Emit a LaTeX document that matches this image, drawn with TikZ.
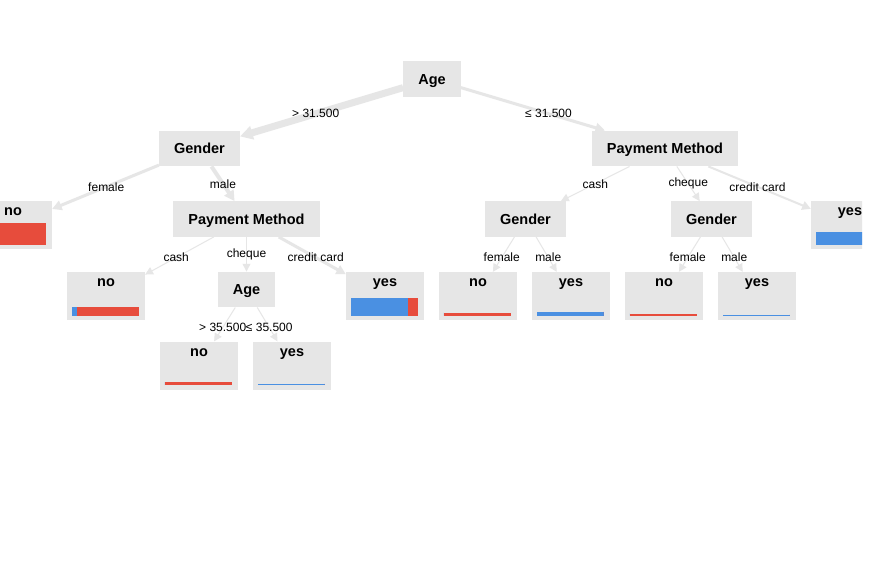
\documentclass[tikz,border=0pt]{standalone}
\usepackage{fontspec}
\setmainfont{Liberation Sans}
\usetikzlibrary{arrows.meta}
\definecolor{boxgray}{HTML}{E6E6E6}
\definecolor{edgegray}{HTML}{E6E6E6}
\definecolor{nored}{HTML}{E74C3C}
\definecolor{yesblue}{HTML}{4A90E2}
\tikzset{
  split/.style={fill=boxgray,inner xsep=15pt,inner ysep=0pt,minimum height=35.5pt,
    text height=10.4pt,text depth=0pt,font=\fontsize{14.5}{16}\selectfont\bfseries},
  leaf/.style={fill=boxgray,minimum width=78pt,inner xsep=0pt,inner ysep=0pt,
    text height=14.5pt,text depth=33.5pt,font=\fontsize{14.5}{16}\selectfont\bfseries},
  link/.style={draw=edgegray,line width=#1,-{Triangle[length=7pt 0.8,width=7pt 0.9]}},
  edgelabel/.style={inner sep=0pt,font=\fontsize{12}{14}\selectfont},
}
% class bar inside a leaf: node, blue width, red width, height
\newcommand{\leafbar}[4]{%
  \fill[yesblue] ([xshift=5pt,yshift=4.5pt]#1.south west) rectangle ++(#2,-#4);
  \fill[nored] ([xshift=5pt+#2pt,yshift=4.5pt]#1.south west) rectangle ++(#3,-#4);
}
\begin{document}
\begin{tikzpicture}[x=1pt,y=-1pt]
  \useasboundingbox[fill=white] (0,0) rectangle (873,573);
  \clip (0,0) rectangle (862,573);
  \node[split] (age) at (432,79) {Age};
  \node[split] (g1) at (199.5,148.5) {Gender};
  \node[split] (pm1) at (665,148.5) {Payment Method};
  \node[leaf] (l1) at (13,225) {no};
  \node[split] (pm2) at (246.5,219) {Payment Method};
  \node[split] (g2) at (525.5,219) {Gender};
  \node[split] (g3) at (711.5,219) {Gender};
  \node[leaf] (l2) at (850,225) {yes};
  \node[leaf] (l3) at (106,296) {no};
  \node[split] (age2) at (246.5,289.5) {Age};
  \node[leaf] (l4) at (385,296) {yes};
  \node[leaf] (l5) at (199,365.5) {no};
  \node[leaf] (l6) at (292,365.5) {yes};
  \node[leaf] (l7) at (478,296) {no};
  \node[leaf] (l8) at (571,296) {yes};
  \node[leaf] (l9) at (664,296) {no};
  \node[leaf] (l10) at (757,296) {yes};

  \leafbar{l1}{0}{67}{22}
  \leafbar{l2}{67}{0}{13}
  \leafbar{l3}{5}{62}{9}
  \leafbar{l4}{57}{10}{18}
  \leafbar{l5}{0}{67}{3}
  \leafbar{l6}{67}{0}{1.5}
  \leafbar{l7}{0}{67}{3}
  \leafbar{l8}{67}{0}{4}
  \leafbar{l9}{0}{67}{2}
  \leafbar{l10}{67}{0}{1.2}

  \draw[link=7pt] (age) -- (g1);
  \draw[link=3pt] (age) -- (pm1);
  \draw[link=3pt] (g1) -- (l1);
  \draw[link=4pt] (g1) -- (pm2);
  \draw[link=1pt] (pm2) -- (l3);
  \draw[link=1pt] (pm2) -- (age2);
  \draw[link=3pt] (pm2) -- (l4);
  \draw[link=1pt] (age2) -- (l5);
  \draw[link=1pt] (age2) -- (l6);
  \draw[link=1pt] (pm1) -- (g2);
  \draw[link=1pt] (pm1) -- (g3);
  \draw[link=2pt] (pm1) -- (l2);
  \draw[link=1pt] (g2) -- (l7);
  \draw[link=1pt] (g2) -- (l8);
  \draw[link=1pt] (g3) -- (l9);
  \draw[link=1pt] (g3) -- (l10);

  \path (age.center) -- node[edgelabel] {> 31.500} (g1.center);
  \path (age.center) -- node[edgelabel] {≤ 31.500} (pm1.center);
  \path (g1.center) -- node[edgelabel] {female} (l1.center);
  \path (g1.center) -- node[edgelabel] {male} (pm2.center);
  \path (pm2.center) -- node[edgelabel] {cash} (l3.center);
  \path (pm2.center) -- node[edgelabel] {cheque} (age2.center);
  \path (pm2.center) -- node[edgelabel] {credit card} (l4.center);
  \path (age2.center) -- node[edgelabel] {> 35.500} (l5.center);
  \path (age2.center) -- node[edgelabel] {≤ 35.500} (l6.center);
  \path (pm1.center) -- node[edgelabel] {cash} (g2.center);
  \path (pm1.center) -- node[edgelabel] {cheque} (g3.center);
  \path (pm1.center) -- node[edgelabel] {credit card} (l2.center);
  \path (g2.center) -- node[edgelabel] {female} (l7.center);
  \path (g2.center) -- node[edgelabel] {male} (l8.center);
  \path (g3.center) -- node[edgelabel] {female} (l9.center);
  \path (g3.center) -- node[edgelabel] {male} (l10.center);
\end{tikzpicture}
\end{document}
